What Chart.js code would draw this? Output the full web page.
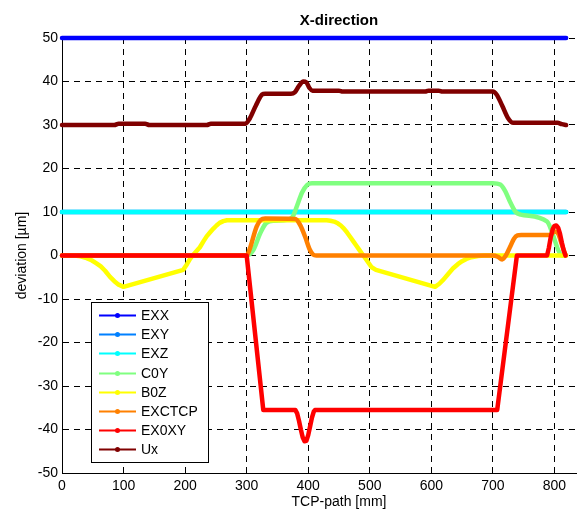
<!DOCTYPE html>
<html>
<head>
<meta charset="utf-8">
<title>X-direction</title>
<script src="https://cdn.jsdelivr.net/npm/chart.js@4/dist/chart.umd.min.js"></script>
<style>
  html, body { margin: 0; padding: 0; background: #fff; overflow: hidden; }
  #chart { display: block; }
</style>
</head>
<body>
<canvas id="chart" width="640" height="511"></canvas>
<script>
// series names and colours (jet(8) like MATLAB)
const seriesNames = ["EXX", "EXY", "EXZ", "C0Y", "B0Z", "EXCTCP", "EX0XY", "Ux"];
const seriesColors = ["#0000ff", "#0080ff", "#00ffff", "#80ff80", "#ffff00", "#ff8000", "#ff0000", "#800000"];
// smooth (monotone) or straight segments per series
const seriesSmooth = [false, false, false, true, false, true, false, true];

// TCP-path [mm] / deviation [µm]
const exxX = [0, 819];
const exxY = [50, 50];

const exyX = [0, 819];
const exyY = [10, 10];

const exzX = [0, 819];
const exzY = [10, 10];

const c0yX = [0, 300, 311, 322, 332, 345, 365, 375, 382, 390, 398, 406, 700, 712, 720, 728, 737, 745, 788, 797, 806, 812, 819];
const c0yY = [0, 0, 1.3, 5.1, 7.5, 8.0, 8.2, 9.0, 11.5, 14.5, 16.2, 16.6, 16.6, 16.3, 14.8, 12.3, 10.0, 9.4, 7.8, 5.0, 1.3, 0, 0];

const b0zX = [0, 20, 30, 40, 48, 56, 63, 70, 78, 85, 92, 100, 197, 203, 208, 214, 219, 224, 230, 235, 241, 246, 251, 256, 262, 268, 280, 430, 436, 442, 448, 453, 458, 463, 468, 473, 478, 483, 488, 493, 497, 503, 510, 606, 613, 620, 627, 635, 643, 650, 657, 665, 676, 686, 819];
const b0zY = [0, 0, -0.2, -0.6, -1.1, -1.8, -2.5, -3.5, -4.9, -5.9, -6.7, -7.2, -3.3, -2.0, -0.8, 0.3, 1.1, 1.9, 3.3, 4.4, 5.4, 6.2, 6.9, 7.5, 7.9, 8.1, 8.1, 8.1, 8.0, 7.8, 7.4, 6.9, 6.2, 5.3, 4.3, 3.3, 2.3, 1.3, 0.3, -0.7, -1.5, -2.7, -3.3, -7.2, -6.5, -5.5, -4.3, -3.0, -2.0, -1.3, -0.8, -0.4, -0.1, 0, 0];

const exctcpX = [0, 300, 305, 316, 323, 330, 379, 387, 395, 402, 408, 413, 700, 708, 715, 721, 728, 734, 740, 746, 793, 800, 806, 812, 818];
const exctcpY = [0, 0, 1.5, 6.6, 8.2, 8.5, 8.4, 7.0, 4.3, 1.5, 0.2, 0, 0, -0.3, -0.9, 0, 2.0, 3.8, 4.6, 4.7, 4.7, 5.5, 5.0, 2.5, 0];

const ex0xyX = [0, 300, 327, 379, 382, 385, 388, 391, 394, 397, 400, 403, 406, 409, 411, 707, 739, 788, 791, 794, 797, 800, 803, 806, 809, 812, 815, 818];
const ex0xyY = [0, 0, -35.5, -35.5, -36.3, -38.0, -40.0, -41.8, -42.7, -42.6, -41.3, -39.3, -37.3, -35.9, -35.5, -35.5, 0, 0, 1.8, 4.2, 6.0, 6.8, 6.9, 6.4, 5.0, 3.0, 1.2, 0];

const uxX = [0, 85, 92, 135, 142, 235, 242, 298, 305, 315, 325, 330, 372, 378, 385, 392, 397, 402, 407, 450, 456, 590, 595, 612, 618, 700, 706, 715, 725, 733, 805, 812, 819];
const uxY = [30, 30, 30.3, 30.3, 30, 30, 30.3, 30.3, 31.5, 34.5, 37.0, 37.2, 37.2, 37.5, 39.0, 40.0, 39.8, 38.5, 37.9, 37.9, 37.7, 37.7, 37.9, 37.9, 37.7, 37.7, 37.0, 34.5, 31.5, 30.5, 30.5, 30.2, 30];

const seriesX = [exxX, exyX, exzX, c0yX, b0zX, exctcpX, ex0xyX, uxX];
const seriesY = [exxY, exyY, exzY, c0yY, b0zY, exctcpY, ex0xyY, uxY];

// axis ticks
const xMin = 0, xMax = 900, xStep = 100;
const yMin = -50, yMax = 50, yStep = 10;

const baseFont = "'Liberation Sans', Arial, Helvetica, sans-serif";

// legend drawn inside the axes, bottom-left, like MATLAB
const legendBox = {
    id: "legendBox",
    afterDatasetsDraw(chart) {
        const { ctx, chartArea } = chart;
        const left = chartArea.left + 29;
        const top = chartArea.top + 264;
        const w = 117, h = 160;
        ctx.save();
        ctx.fillStyle = "#fff";
        ctx.fillRect(left, top, w, h);
        ctx.strokeStyle = "#000";
        ctx.lineWidth = 1;
        ctx.strokeRect(left + 0.5, top + 0.5, w, h);
        ctx.font = "14px " + baseFont;
        ctx.textBaseline = "middle";
        chart.data.datasets.forEach((ds, i) => {
            const y = Math.round(top + 13 + i * 19.2) + 0.5;
            ctx.strokeStyle = ds.borderColor;
            ctx.lineWidth = 2;
            ctx.beginPath();
            ctx.moveTo(left + 8, y);
            ctx.lineTo(left + 45, y);
            ctx.stroke();
            ctx.fillStyle = ds.borderColor;
            ctx.beginPath();
            ctx.arc(left + 26.5, y, 2.5, 0, Math.PI * 2);
            ctx.fill();
            ctx.fillStyle = "#000";
            ctx.fillText(ds.label, left + 50, y + 1);
        });
        ctx.restore();
    }
};

function buildDatasets() {
    return seriesNames.map((name, i) => ({
        label: name,
        data: seriesX[i].map((x, j) => ({ x: x, y: seriesY[i][j] })),
        borderColor: seriesColors[i],
        backgroundColor: seriesColors[i],
        borderWidth: 4.5,
        pointRadius: 0,
        fill: false,
        clip: 8,
        tension: 0,
        cubicInterpolationMode: seriesSmooth[i] ? "monotone" : "default",
        borderCapStyle: "round",
        borderJoinStyle: "round",
        order: seriesNames.length - i // later series on top, as in MATLAB
    }));
}

const gridStyle = { color: "#000", lineWidth: 1, drawTicks: false };
const borderStyle = { display: true, color: "#000", width: 1, dash: [6, 5] };

new Chart(document.getElementById("chart"), {
    type: "line",
    data: { datasets: buildDatasets() },
    plugins: [legendBox],
    options: {
        responsive: false,
        animation: false,
        devicePixelRatio: 1,
        layout: { padding: { left: 0, right: 24, top: 0, bottom: 0 } },
        plugins: {
            legend: { display: false },
            tooltip: { enabled: false },
            title: {
                display: true,
                text: "X-direction",
                color: "#000",
                fullSize: false,
                font: { family: baseFont, size: 15, weight: "bold" },
                padding: { top: 12, bottom: 8 }
            }
        },
        scales: {
            x: {
                type: "linear",
                min: xMin,
                max: xMax,
                ticks: { stepSize: xStep, color: "#000", font: { family: baseFont, size: 14 }, padding: 5, maxRotation: 0 },
                grid: gridStyle,
                border: borderStyle,
                title: { display: true, text: "TCP-path [mm]", color: "#000", font: { family: baseFont, size: 14 }, padding: { top: 0, bottom: 0 } },
                afterFit(scale) { scale.height = 38; }
            },
            y: {
                min: yMin,
                max: yMax,
                ticks: { stepSize: yStep, color: "#000", font: { family: baseFont, size: 14 }, padding: 4 },
                grid: gridStyle,
                border: borderStyle,
                title: { display: true, text: "deviation [µm]", color: "#000", font: { family: baseFont, size: 14 }, padding: { top: 14, bottom: 0 } },
                afterFit(scale) { scale.width = 62; }
            }
        }
    }
});
</script>
</body>
</html>
